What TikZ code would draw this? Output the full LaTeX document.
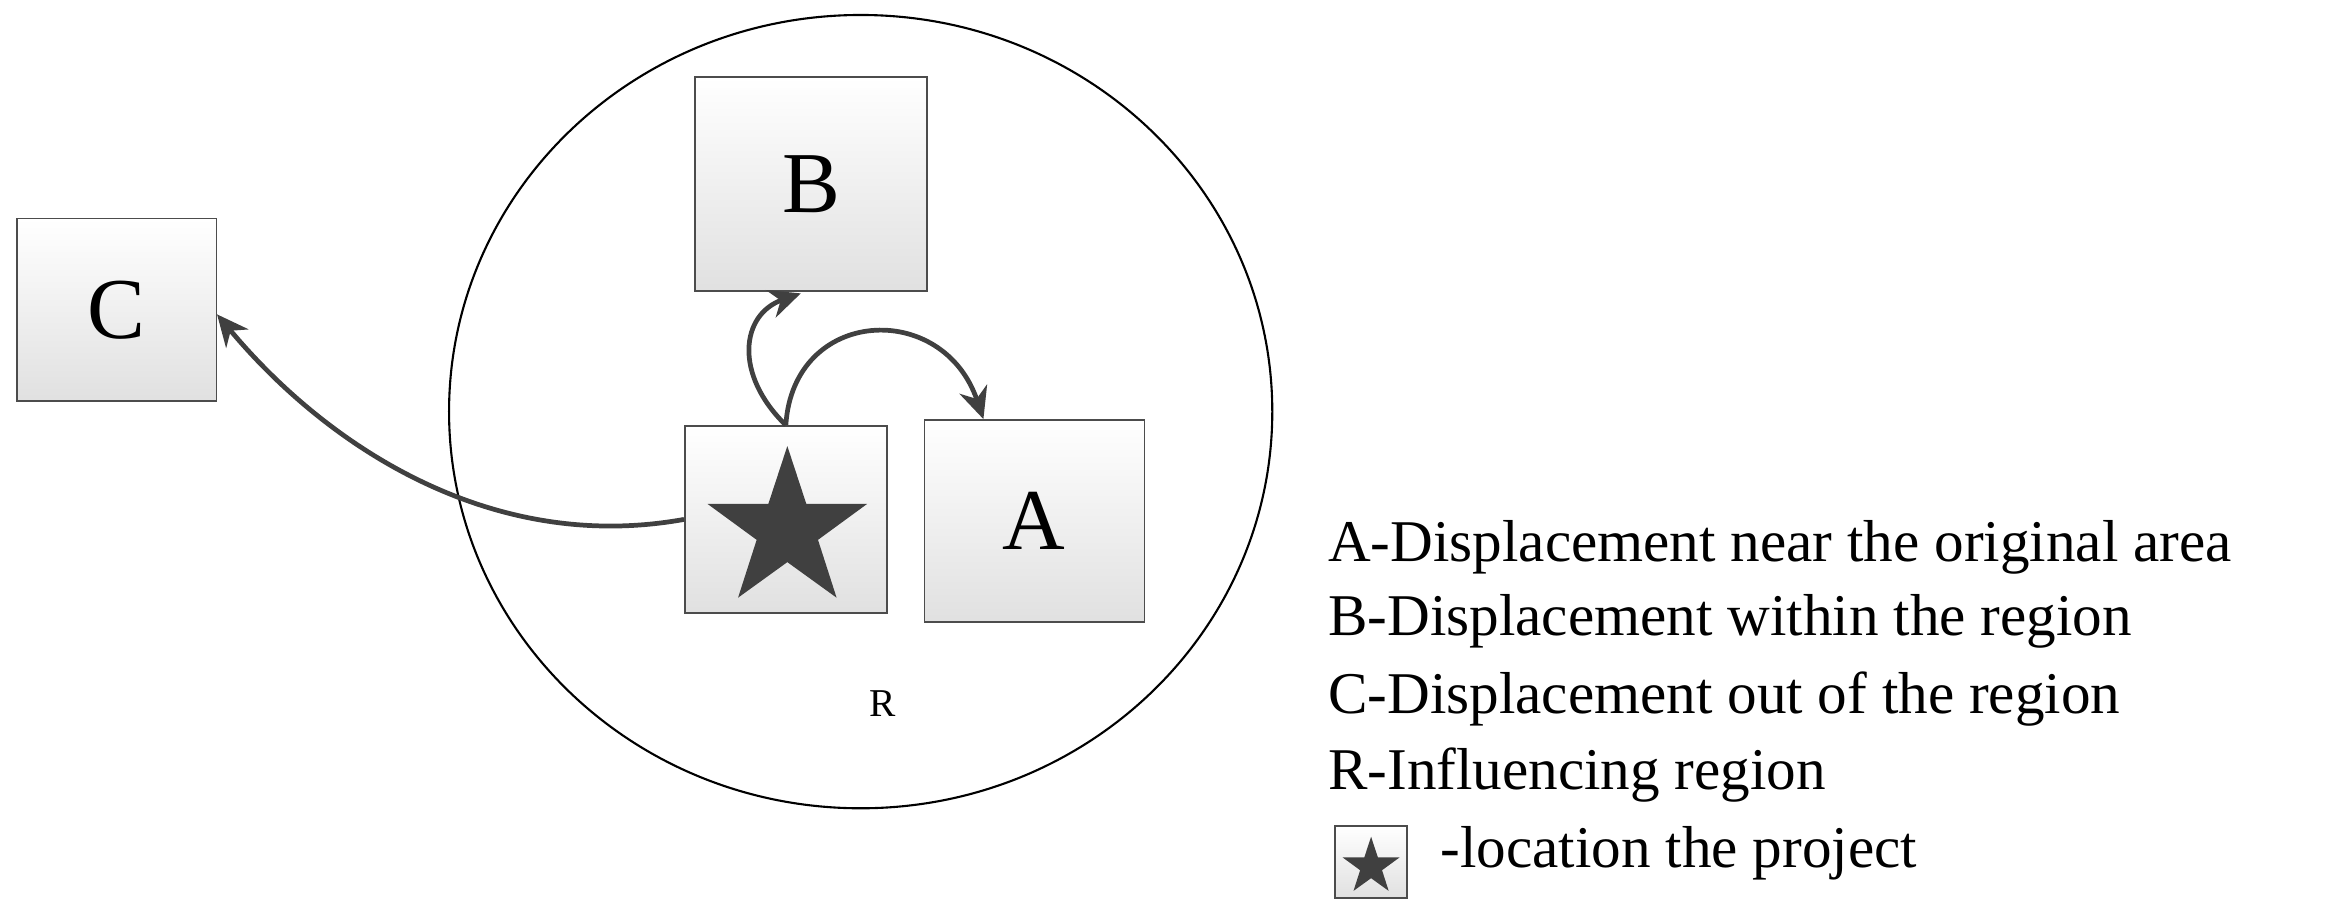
\documentclass[tikz,border=0pt]{standalone}
\usepackage{fontspec}
\setmainfont{Liberation Serif}
\usetikzlibrary{shapes.geometric,arrows.meta}
\begin{document}
\begin{tikzpicture}[x=0.02cm,y=-0.02cm,
  box/.style={draw=black!70,line width=0.6pt,top color=white,bottom color=black!12,inner sep=0pt},
  arr/.style={draw=black!75,line width=1.8pt,-{Stealth[length=12pt,width=11pt]}},
  leg/.style={anchor=west,font=\fontsize{22.5}{26}\selectfont,inner sep=0pt}]
\useasboundingbox (0,0) rectangle (1568,616);
\draw[line width=0.8pt] (575,275) ellipse [x radius=275, y radius=265];
\node[box,minimum width=155*0.02cm,minimum height=143*0.02cm] (B) at (542,123) {\fontsize{33}{36}\selectfont B};
\node[box,minimum width=133*0.02cm,minimum height=122*0.02cm] (C) at (78,207) {\fontsize{33}{36}\selectfont C};
\node[box,minimum width=135*0.02cm,minimum height=125*0.02cm] (S) at (525,347) {};
\node[star,star points=5,star point ratio=2.6,fill=black!75,minimum size=112*0.02cm,inner sep=0pt] (st) at (526,354) {};
\node[box,minimum width=147*0.02cm,minimum height=135*0.02cm] (A) at (691,348) {\fontsize{33}{36}\selectfont A};
\node[font=\fontsize{15}{18}\selectfont] (R) at (590,470) {R};
\coordinate (top) at (525,284);
\draw[arr] (top) .. controls (490,250) and (495,210) .. (535,196);
\draw[arr] (top) .. controls (530,205) and (630,200) .. (657,280);
\draw[arr] (S.west) .. controls (330,370) and (220,300) .. (145,210);
\node[leg] (l1) at (887,366) {A-Displacement near the original area};
\node[leg] (l2) at (887,415) {B-Displacement within the region};
\node[leg] (l3) at (887,467) {C-Displacement out of the region};
\node[leg] (l4) at (887,518) {R-Influencing region};
\node[box,minimum width=48*0.02cm,minimum height=48*0.02cm] (ls) at (916,576) {};
\node[star,star points=5,star point ratio=2.6,fill=black!75,minimum size=40*0.02cm,inner sep=0pt] (lst) at (916,579) {};
\node[leg] (l5) at (962,570) {-location the project};
\end{tikzpicture}
\end{document}
